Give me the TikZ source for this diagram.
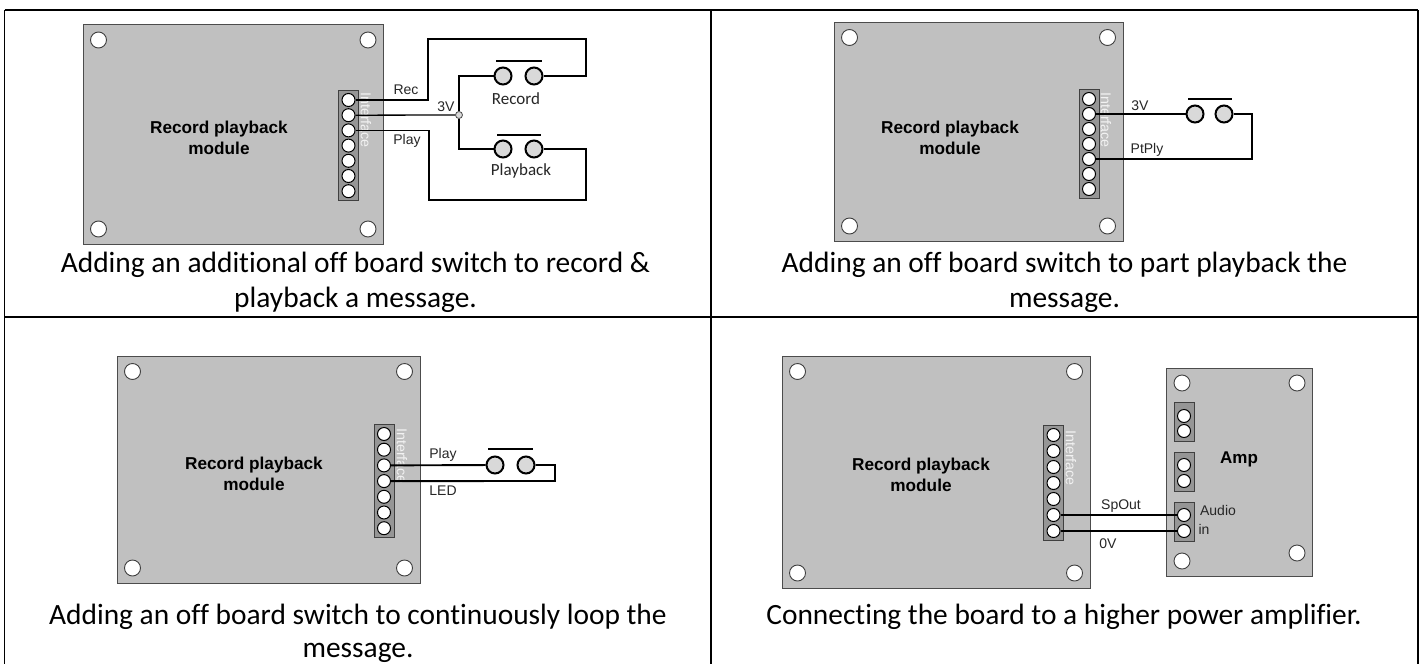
\documentclass[tikz,border=0pt]{standalone}
\usepackage{fontspec}
\setmainfont{Liberation Sans}
\newfontfamily\capfont[Ligatures=CommonOff]{Carlito}
\tikzset{
  x=1pt,y=-1pt,
  pcb/.style={draw=black!70,line width=1pt,fill=pcbgrey},
  hdr/.style={draw=black!75,line width=1pt,fill=hdrgrey},
  hole/.style={circle,draw=black!75,line width=0.9pt,fill=white,minimum size=16pt,inner sep=0pt},
  pinpt/.style={circle,draw=black,line width=1pt,fill=white,minimum size=13pt,inner sep=0pt},
  swpt/.style={circle,draw=black,line width=2pt,fill=swgrey,minimum size=17pt,inner sep=0pt},
  junc/.style={circle,draw=black!70,line width=0.8pt,fill=swgrey,minimum size=7pt,inner sep=0pt},
  wire/.style={draw=black,line width=1.3pt},
  hwire/.style={draw=black,line width=1.9pt},
  swbar/.style={draw=black,line width=1.8pt},
  lbl/.style={font=\fontsize{14}{14}\selectfont,inner sep=0pt,text=black!85},
  swlabel/.style={font=\capfont\fontsize{17}{17}\selectfont,inner sep=0pt,text=black!85},
  boardtitle/.style={font=\bfseries\fontsize{17.2}{21}\selectfont,align=center,inner sep=0pt},
  amptitle/.style={font=\bfseries\fontsize{17}{17}\selectfont,inner sep=0pt},
  iface/.style={font=\fontsize{14.3}{14.3}\selectfont,text=black!5,rotate=-90,inner sep=0pt},
  captxt/.style={font=\capfont\fontsize{29.4}{35}\selectfont,align=center,inner sep=0pt,text=black},
  gridv/.style={draw=black,line width=1.2pt},
  gridh/.style={draw=black,line width=2pt},
}
\definecolor{pcbgrey}{HTML}{C0C0C0}
\definecolor{hdrgrey}{HTML}{969696}
\definecolor{swgrey}{HTML}{D9D9D9}
% name, left, top, right, bottom
\newcommand{\pcbboard}[5]{%
  \filldraw[pcb] (#2,#3) rectangle (#4,#5);
  \node[hole] (#1h1) at (#2+15.5,#3+15.5) {};
  \node[hole] (#1h2) at (#4-15.5,#3+15.5) {};
  \node[hole] (#1h3) at (#2+15.5,#5-15) {};
  \node[hole] (#1h4) at (#4-15.5,#5-15) {};
}
% name, x centre, first pin y, step
\newcommand{\pinstrip}[4]{%
  \filldraw[hdr] (#2-10,#3-9.5) rectangle (#2+10,#3+6*#4+9.5);
  \foreach \k in {1,...,7}{\node[pinpt] (#1\k) at (#2,{#3+(\k-1)*#4}) {};}
}
\begin{document}
\begin{tikzpicture}
\useasboundingbox (0,0) rectangle (1423,664);
\fill[white] (0,0) rectangle (1423,664);
% table rules
\coordinate (tl) at (4.5,10); \coordinate (tr) at (1418,10);
\coordinate (ml) at (4.5,317); \coordinate (mr) at (1418,317);
\coordinate (bl) at (4.5,664); \coordinate (br) at (1418,664);
\coordinate (tm) at (711,10); \coordinate (bm) at (711,664);
\draw[gridh] (tl) -- (tr);
\draw[gridh] (ml) -- (mr);
\draw[gridv] (tl) -- (bl);
\draw[gridv] (tm) -- (bm);
\draw[gridh] (tr) -- (br);

% --- Panel 1
\pcbboard{a}{83}{24.5}{383.5}{244}
\pinstrip{a}{348.5}{100}{15.2}
\node[iface] (aif) at (366,120) {Interface};
\node[boardtitle] (at) at (219,138) {Record playback\\module};
\node[swpt] (as1) at (503,76) {};
\node[swpt] (as2) at (534,76) {};
\node[swpt] (as3) at (503,149) {};
\node[swpt] (as4) at (534,149) {};
\node[junc] (aj) at (459,115) {};
\coordinate (ar1) at (428,39); \coordinate (ar2) at (586,39);
\coordinate (ap1) at (429,200); \coordinate (ap2) at (586,200);
\draw[wire] (a1) -| (ar1) -- (ar2) -- (ar2 |- as2) -- (as2);
\draw[wire] (a2) -- (aj);
\draw[wire] (a3) -| (ap1) -- (ap2) -- (ap2 |- as4) -- (as4);
\draw[hwire] (as1) -| (aj);
\draw[hwire] (as3) -| (aj);
\draw[hwire] (ar2) -- (ar2 |- as2);
\draw[swbar] (496,61) -- (542,61);
\draw[swbar] (497,135) -- (541,135);
\node[lbl] (al1) at (406,90) {Rec};
\node[lbl] (al2) at (446,107) {3V};
\node[lbl] (al3) at (407,141) {Play};
\node[swlabel] (al4) at (516,99) {Record};
\node[swlabel] (al5) at (521,171) {Playback};
\node[captxt] (ac) at (355.5,282.5) {Adding an additional off board switch to record \&\\playback a message.};

% --- Panel 2
\pcbboard{b}{834}{22}{1123}{241}
\pinstrip{b}{1089}{99}{15}
\node[iface] (bif) at (1106,120) {Interface};
\node[boardtitle] (bt) at (950,138) {Record playback\\module};
\node[swpt] (bs1) at (1195,114) {};
\node[swpt] (bs2) at (1224,114) {};
\coordinate (bc1) at (1252,114); \coordinate (bc2) at (1252,159);
\draw[hwire] (b2) -- (bs1);
\draw[hwire] (bs2) -- (bc1) -- (bc2) -- (b5);
\draw[swbar] (1188,99) -- (1232,99);
\node[lbl] (bl1) at (1140,106) {3V};
\node[lbl] (bl2) at (1147,150) {PtPly};
\node[captxt] (bc) at (1064.5,282.5) {Adding an off board switch to part playback the\\message.};

% --- Panel 3
\pcbboard{c}{117}{356}{420}{583}
\pinstrip{c}{384}{434}{15.7}
\node[iface] (cif) at (402,456) {Interface};
\node[boardtitle] (ct) at (254,474) {Record playback\\module};
\node[swpt] (cs1) at (495,465) {};
\node[swpt] (cs2) at (526,465) {};
\coordinate (cc1) at (555,465); \coordinate (cc2) at (555,481);
\draw[hwire] (c3) -- (cs1);
\draw[hwire] (cs2) -- (cc1) -- (cc2) -- (c4);
\draw[swbar] (488,449) -- (533,449);
\node[lbl] (cl1) at (443,455) {Play};
\node[lbl] (cl2) at (443,491) {LED};
\node[captxt] (cc) at (358,633) {Adding an off board switch to continuously loop the\\[-2pt]message.};

% --- Panel 4
\pcbboard{d}{782}{356}{1090}{588}
\pinstrip{d}{1053.5}{435}{16}
\node[iface] (dif) at (1071,458) {Interface};
\node[boardtitle] (dt) at (921,475) {Record playback\\module};
\filldraw[pcb] (1166,368) rectangle (1312,576);
\node[hole] (eh1) at (1182,383) {};
\node[hole] (eh2) at (1297,383) {};
\node[hole] (eh3) at (1297,553) {};
\node[hole] (eh4) at (1182,561) {};
\filldraw[hdr] (1174,402) rectangle (1194,441);
\filldraw[hdr] (1174,452) rectangle (1194,491);
\filldraw[hdr] (1174,502) rectangle (1194,541);
\node[pinpt] (e1) at (1184,416) {};
\node[pinpt] (e2) at (1184,431) {};
\node[pinpt] (e3) at (1184,465) {};
\node[pinpt] (e4) at (1184,481) {};
\node[pinpt] (e5) at (1184,515) {};
\node[pinpt] (e6) at (1184,531) {};
\draw[wire] (d6) -- (e5);
\draw[wire] (d7) -- (e6);
\node[amptitle] (et) at (1239,459) {Amp};
\node[lbl] (el1) at (1121,506) {SpOut};
\node[lbl] (el2) at (1108,544) {0V};
\node[lbl] (el3) at (1218,510) {Audio};
\node[lbl] (el4) at (1204,529) {in};
\node[captxt] (dc) at (1064,617) {Connecting the board to a higher power amplifier.};
\end{tikzpicture}
\end{document}
